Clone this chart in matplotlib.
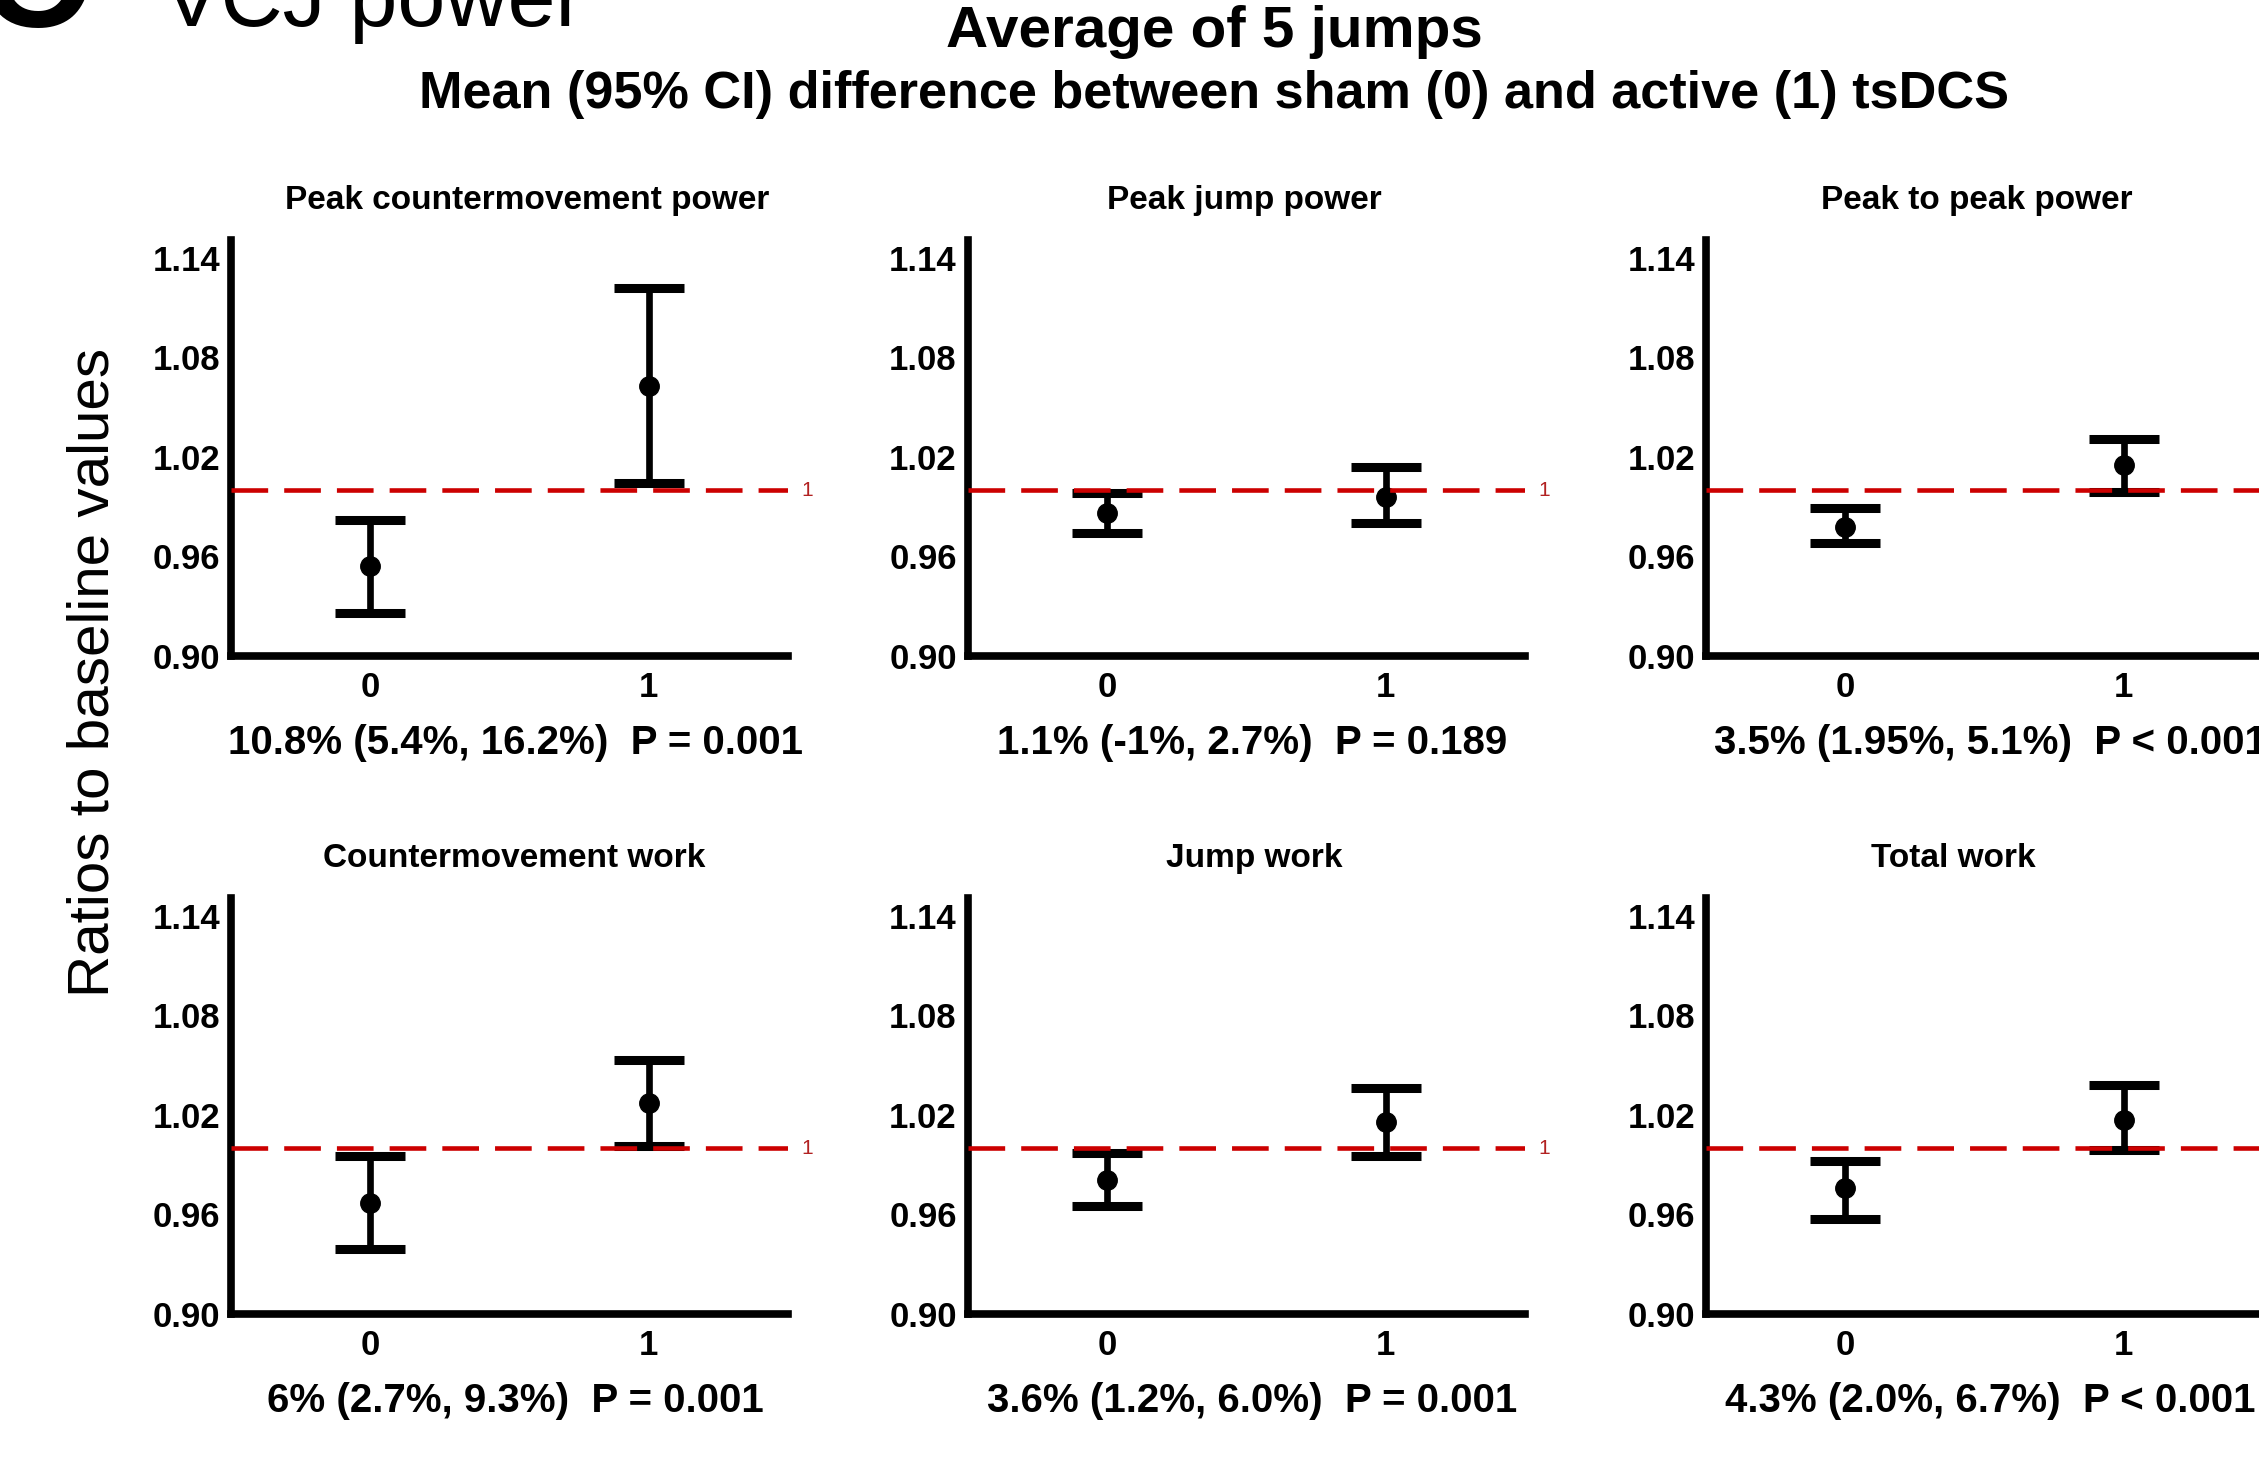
import numpy as np
import matplotlib.pyplot as plt

plt.rcParams['font.family'] = ['Liberation Sans', 'DejaVu Sans']

# panel titles and CI summaries
panels = ["Peak countermovement power", "Peak jump power", "Peak to peak power",
          "Countermovement work", "Jump work", "Total work"]
notes = ["10.8% (5.4%, 16.2%)  P = 0.001",
         "1.1% (-1%, 2.7%)  P = 0.189",
         "3.5% (1.95%, 5.1%)  P < 0.001",
         "6% (2.7%, 9.3%)  P = 0.001",
         "3.6% (1.2%, 6.0%)  P = 0.001",
         "4.3% (2.0%, 6.7%)  P < 0.001"]

groups = [0, 1]

# sham (0)
mean0 = [0.954, 0.986, 0.978, 0.967, 0.981, 0.976]
lo0 = [0.926, 0.974, 0.968, 0.939, 0.965, 0.957]
hi0 = [0.982, 0.998, 0.989, 0.995, 0.997, 0.992]
# active (1)
mean1 = [1.063, 0.996, 1.015, 1.027, 1.016, 1.017]
lo1 = [1.004, 0.980, 0.999, 1.001, 0.995, 0.999]
hi1 = [1.122, 1.014, 1.031, 1.053, 1.036, 1.038]

yticks = [0.90, 0.96, 1.02, 1.08, 1.14]

fig = plt.figure(figsize=(22.59, 14.61), dpi=100)

lefts = [0.1023, 0.4285, 0.7552]
bottoms = [0.551, 0.1006]
w, h = 0.2466, 0.285
# titles are not quite centred in the original
title_x = [0.532, 0.497, 0.487, 0.508, 0.514, 0.444]

for i in range(6):
    r, c = divmod(i, 3)
    ax = fig.add_axes([lefts[c], bottoms[r], w, h])
    m = np.array([mean0[i], mean1[i]])
    lo = np.array([lo0[i], lo1[i]])
    hi = np.array([hi0[i], hi1[i]])
    ax.errorbar(groups, m, yerr=[m - lo, hi - m], fmt='o', color='k', ms=14,
                elinewidth=4.8, capsize=25, capthick=6.5, zorder=2)
    ax.axhline(1, color='#CC0000', lw=3.3, dashes=(8, 3.5), zorder=3)
    ax.text(1.57, 1.0, '1', color='#B22222', fontsize=15, ha='center', va='center',
            clip_on=False)

    ax.set_xlim(-0.5, 1.5)
    ax.set_ylim(0.90, 1.151)
    ax.set_xticks(groups)
    ax.set_xticklabels(['0', '1'], fontsize=25, fontweight='bold')
    ax.set_yticks(yticks)
    ax.set_yticklabels(['%.2f' % t for t in yticks], fontsize=25, fontweight='bold')
    ax.tick_params(axis='y', length=0, pad=8)
    ax.tick_params(axis='x', length=0, pad=11)
    for s in ['top', 'right']:
        ax.spines[s].set_visible(False)
    for s in ['left', 'bottom']:
        ax.spines[s].set_linewidth(5.5)
        ax.spines[s].set_capstyle('projecting')

    ax.text(title_x[i], 1.094, panels[i], transform=ax.transAxes, ha='center',
            va='center', fontsize=24, fontweight='bold')
    ax.text(0.51, -0.208, notes[i], transform=ax.transAxes, ha='center', va='center',
            fontsize=29, fontweight='bold', clip_on=False)

fig.text(0.5376, 0.978, 'Average of 5 jumps', ha='center', va='center',
         fontsize=42, fontweight='bold')
fig.text(0.5376, 0.935, 'Mean (95% CI) difference between sham (0) and active (1) tsDCS',
         ha='center', va='center', fontsize=37.6, fontweight='bold')
fig.text(0.015, 0.9815, 'C', ha='center', va='baseline', fontsize=110, fontweight='bold')
fig.text(0.072, 0.9822, 'VCJ power', ha='left', va='baseline', fontsize=62)
fig.text(0.0416, 0.5394, 'Ratios to baseline values', rotation=90, ha='center',
         va='center', fontsize=42)

fig.savefig('out.png', dpi=100)
